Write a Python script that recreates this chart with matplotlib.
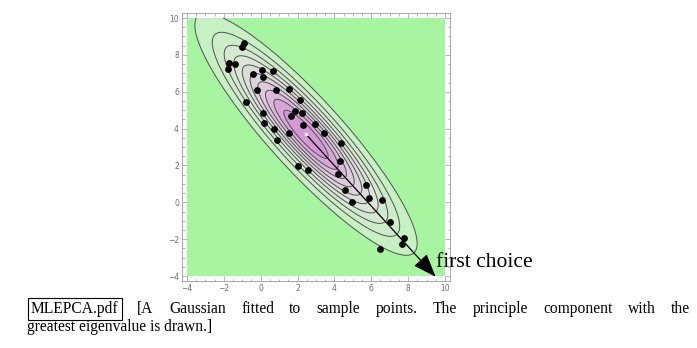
import matplotlib
matplotlib.use("Agg")
import matplotlib.pyplot as plt
import numpy as np
from matplotlib.colors import LinearSegmentedColormap
from matplotlib.ticker import MultipleLocator

# --- Sample points ---
pts_x = [-0.90, -1.03, -1.71, -1.39, -1.77, -0.81, -0.40, 0.09, 0.14, 0.69,
         -0.22, 0.83, 1.53, 2.13, 0.14, 1.89, 1.64, 2.22, 0.18, 0.72,
         0.90, 1.53, 2.31, 2.94, 3.41, 2.00, 2.58, 4.35, 4.31, 4.22,
         5.72, 4.56, 4.94, 5.88, 6.57, 7.02, 7.79, 7.67, 6.48]
pts_y = [8.63, 8.45, 7.57, 7.51, 7.24, 5.44, 6.95, 7.19, 6.81, 7.12,
         6.07, 6.12, 6.16, 5.56, 4.86, 4.93, 4.68, 4.84, 4.28, 3.96,
         3.40, 3.78, 4.17, 4.26, 3.78, 1.95, 1.77, 3.22, 2.22, 1.55,
         0.96, 0.69, 0.04, 0.23, 0.14, -1.05, -1.93, -2.24, -2.53]

# --- Fitted Gaussian ---
gauss_mean = [2.46, 3.69]
gauss_sd = [3.97, 0.90]        # along principal / minor axis
gauss_angle = -47.7            # principal axis, degrees from +x
arrow_length = 10.45           # drawn length of the principal component

plot_range = (-4, 10)
n_contours = 10

arrow_label = "first choice"
caption_tag = "MLEPCA.pdf"
caption_line1 = "[A Gaussian fitted to sample points.  The principle component with the"
caption_line2 = "greatest eigenvalue is drawn.]"

mu = np.array(gauss_mean)
th = np.deg2rad(gauss_angle)
R = np.array([[np.cos(th), -np.sin(th)], [np.sin(th), np.cos(th)]])
cov = R @ np.diag(np.square(gauss_sd)) @ R.T
evals, evecs = np.linalg.eigh(cov)
v = evecs[:, np.argmax(evals)]
if v[0] < 0:
    v = -v
tip = mu + arrow_length * v

g = np.linspace(plot_range[0], plot_range[1], 400)
X, Y = np.meshgrid(g, g)
D = np.dstack([X - mu[0], Y - mu[1]])
inv = np.linalg.inv(cov)
Z = np.exp(-0.5 * np.einsum("...i,ij,...j->...", D, inv, D))

levels = np.linspace(0, 1, n_contours + 2)[1:-1]
fill_levels = np.concatenate([[Z.min() - 1], levels, [1.01]])

ramp = LinearSegmentedColormap.from_list(
    "gp", ["#c6f1c2", "#dbe6d8", "#dccbdc", "#d597d5"])
fill_colors = ["#a7f5a0"] + [ramp(t) for t in np.linspace(0, 1, n_contours)]

# --- Figure ---
W, H = 697, 348
fig = plt.figure(figsize=(W / 100, H / 100), dpi=100)
ax = fig.add_axes([0.2608, 0.192, 0.385, 0.771])

ax.contourf(X, Y, Z, levels=fill_levels, colors=fill_colors, antialiased=True)
ax.contour(X, Y, Z, levels=levels, colors="#505050", linewidths=0.7)

ax.scatter(pts_x, pts_y, s=24, color="black", zorder=4, linewidths=0)

ax.annotate("", xy=tip, xytext=mu,
            arrowprops=dict(arrowstyle="-|>,head_length=1.2,head_width=0.45",
                            mutation_scale=12, lw=0.9, color="black",
                            shrinkA=0, shrinkB=0),
            zorder=5, annotation_clip=False)
ax.plot([mu[0]], [mu[1]], marker="s", ms=2, color="white", zorder=6)

pad = 0.28
ax.set_xlim(plot_range[0] - pad, plot_range[1] + pad)
ax.set_ylim(plot_range[0] - pad, plot_range[1] + pad)

for s in ax.spines.values():
    s.set_color("#9a9a9a")
    s.set_linewidth(0.6)
ax.xaxis.set_major_locator(MultipleLocator(2))
ax.yaxis.set_major_locator(MultipleLocator(2))
ax.xaxis.set_minor_locator(MultipleLocator(0.5))
ax.yaxis.set_minor_locator(MultipleLocator(0.5))
ax.tick_params(which="both", direction="in", top=True, right=True,
               color="#9a9a9a", width=0.5, labelsize=5.5, labelcolor="#707070")
ax.tick_params(which="major", length=3.5, pad=2)
ax.tick_params(which="minor", length=1.8)

fig.text(436 / W, (H - 267) / H, arrow_label, family="Liberation Serif",
         fontsize=15.5, va="baseline", ha="left")

# --- Caption, first line justified ---
cap_font = dict(family="Liberation Serif", fontsize=11.2, va="baseline", ha="left")
y1 = (H - 313) / H
y2 = (H - 331) / H
tag = fig.text(31 / W, y1, caption_tag, **cap_font,
               bbox=dict(boxstyle="square,pad=0.22", fc="none", ec="black", lw=0.8))
fig.text(27 / W, y2, caption_line2, **cap_font)

fig.canvas.draw()
r = fig.canvas.get_renderer()
box_right = tag.get_bbox_patch().get_window_extent(r).x1
words = caption_line1.split()
arts = [fig.text(0, y1, w, **cap_font) for w in words]
widths = [a.get_window_extent(r).width for a in arts]
gap = (690 - box_right - sum(widths)) / len(words)
x = box_right + gap
for a, w in zip(arts, widths):
    a.set_x(x / W)
    x += w + gap

fig.savefig("out.png", dpi=100)
